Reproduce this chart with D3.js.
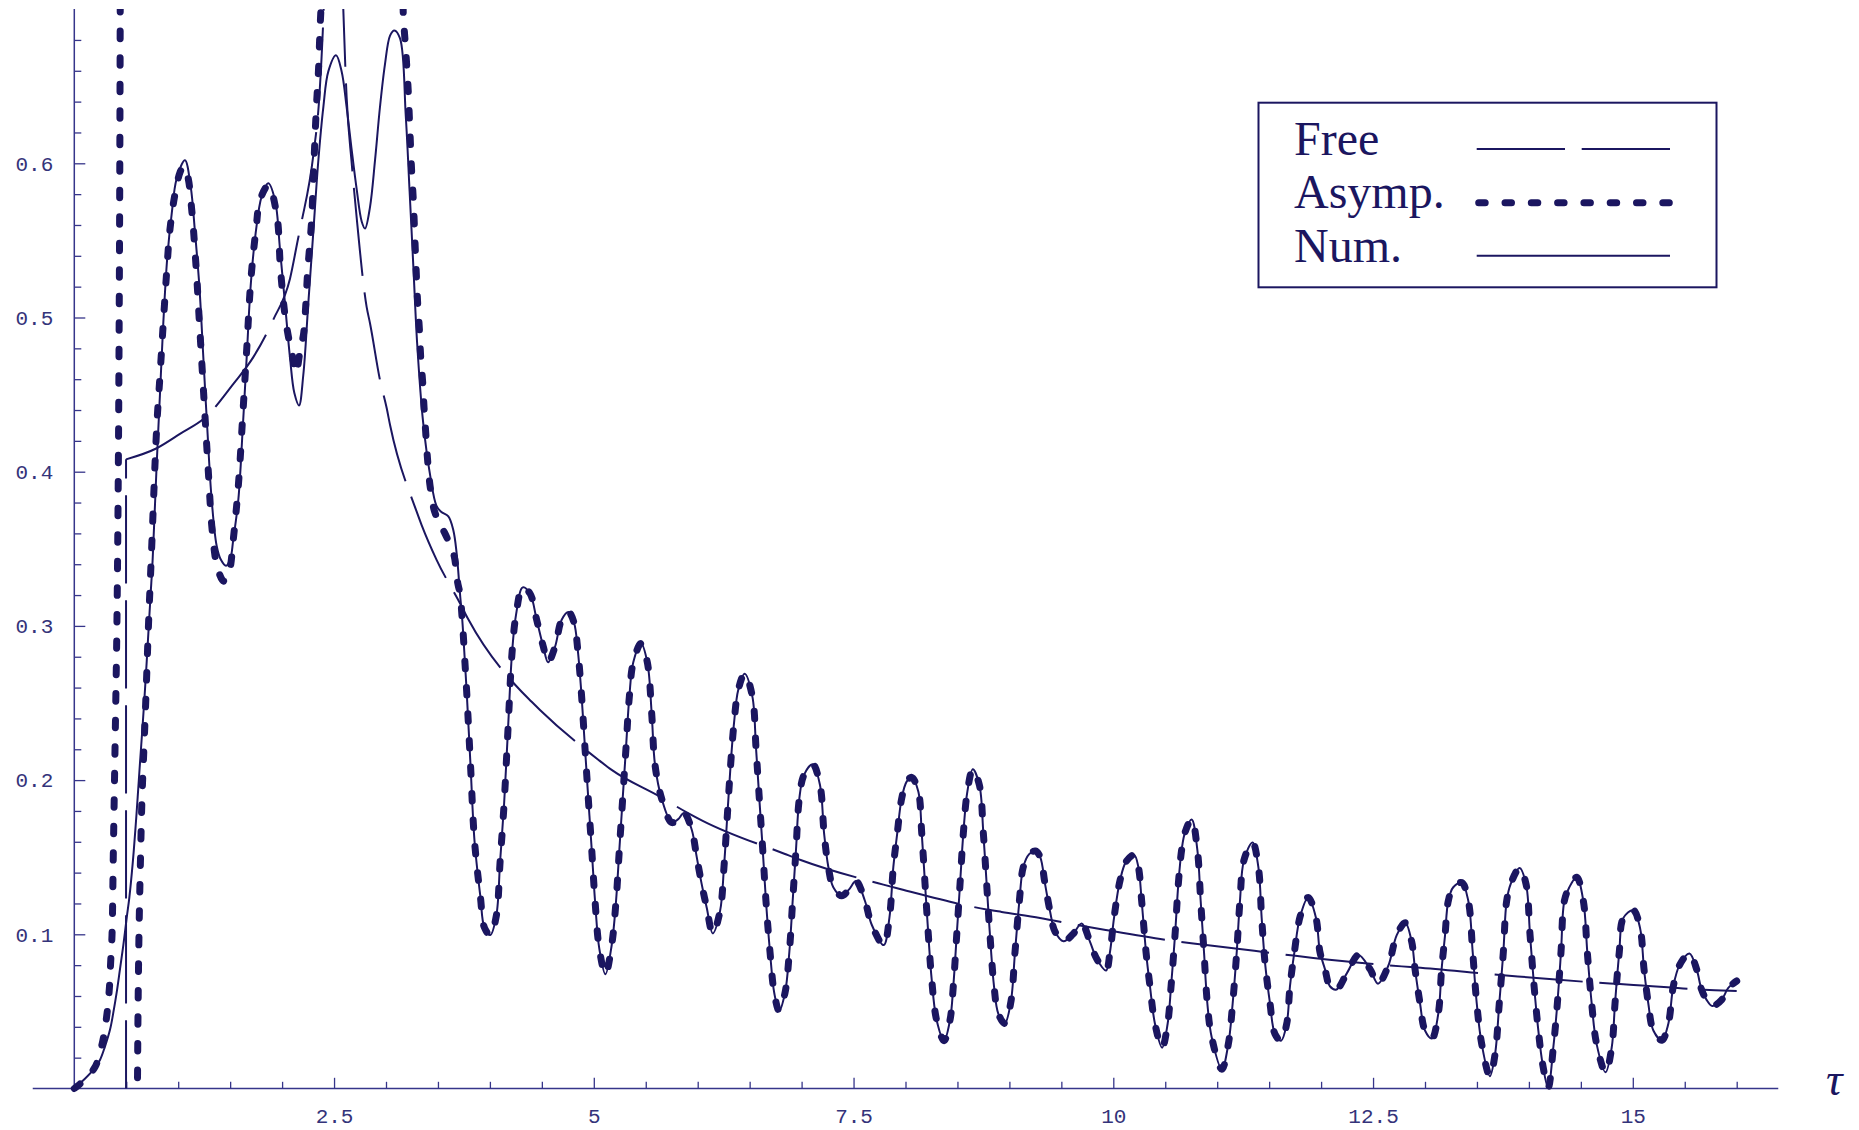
<!DOCTYPE html>
<html>
<head>
<meta charset="utf-8">
<script src="https://cdn.jsdelivr.net/npm/d3@7"></script>
<style>
  body { margin: 0; background: #fff; }
  svg { display: block; }
</style>
</head>
<body>
<svg id="chart"></svg>
<script>
// values, [tau, value]
const num = [
  [0, 0], [0.087, 0.0053], [0.183, 0.012], [0.247, 0.0185], [0.295, 0.0272], [0.344, 0.0382],
  [0.375, 0.049], [0.408, 0.0623], [0.44, 0.0776], [0.472, 0.093], [0.504, 0.1105], [0.53, 0.124],
  [0.562, 0.146], [0.588, 0.168], [0.61, 0.189], [0.632, 0.211], [0.655, 0.233], [0.677, 0.255],
  [0.697, 0.277], [0.716, 0.299], [0.735, 0.321], [0.754, 0.343], [0.793, 0.405], [0.825, 0.451],
  [0.857, 0.497], [0.895, 0.539], [0.937, 0.567], [0.985, 0.59], [1.065, 0.602], [1.12, 0.585],
  [1.162, 0.555], [1.203, 0.521], [1.242, 0.474], [1.28, 0.428], [1.322, 0.382], [1.37, 0.352],
  [1.41, 0.343], [1.46, 0.339], [1.5, 0.343], [1.53, 0.356], [1.579, 0.382], [1.621, 0.428],
  [1.659, 0.474], [1.698, 0.521], [1.746, 0.555], [1.803, 0.5785], [1.867, 0.587], [1.932, 0.576],
  [1.98, 0.544], [2.028, 0.509], [2.076, 0.474], [2.118, 0.451], [2.163, 0.443], [2.204, 0.4627],
  [2.252, 0.509], [2.3, 0.555], [2.349, 0.602], [2.397, 0.6365], [2.445, 0.6596], [2.519, 0.67],
  [2.573, 0.6596], [2.621, 0.6365], [2.67, 0.6086], [2.718, 0.5831], [2.766, 0.5623], [2.798, 0.5577],
  [2.846, 0.5716], [2.894, 0.6017], [2.942, 0.6365], [2.99, 0.6642], [3.039, 0.6828], [3.08, 0.6862],
  [3.135, 0.681], [3.19, 0.631], [3.227, 0.582], [3.264, 0.532], [3.3, 0.483], [3.356, 0.433],
  [3.429, 0.396], [3.485, 0.378], [3.53, 0.374], [3.6, 0.371], [3.648, 0.362], [3.68, 0.347],
  [3.712, 0.321], [3.734, 0.304], [3.76, 0.276], [3.776, 0.258], [3.814, 0.209], [3.852, 0.1605],
  [3.909, 0.124], [3.947, 0.1044], [4.004, 0.0995], [4.061, 0.1117], [4.099, 0.148], [4.137, 0.185],
  [4.175, 0.234], [4.213, 0.2825], [4.251, 0.307], [4.316, 0.325], [4.386, 0.321], [4.45, 0.304],
  [4.514, 0.2865], [4.56, 0.2764], [4.627, 0.2865], [4.691, 0.304], [4.757, 0.309], [4.81, 0.302],
  [4.845, 0.285], [4.883, 0.254], [4.915, 0.221], [4.947, 0.188], [4.98, 0.155], [5.012, 0.1216],
  [5.053, 0.0907], [5.112, 0.0741], [5.172, 0.0929], [5.214, 0.1216], [5.246, 0.155], [5.278, 0.188],
  [5.31, 0.221], [5.342, 0.254], [5.38, 0.2764], [5.455, 0.2886], [5.515, 0.2764], [5.557, 0.2433],
  [5.589, 0.21], [5.653, 0.188], [5.75, 0.1725], [5.81, 0.1745], [5.868, 0.1787], [5.942, 0.168],
  [5.99, 0.1504], [6.038, 0.1327], [6.087, 0.1172], [6.145, 0.1006], [6.215, 0.115], [6.253, 0.1437],
  [6.285, 0.1769], [6.317, 0.21], [6.349, 0.2366], [6.391, 0.2587], [6.452, 0.269], [6.526, 0.2543],
  [6.561, 0.2211], [6.593, 0.188], [6.626, 0.1548], [6.657, 0.1216], [6.696, 0.0885], [6.737, 0.0619],
  [6.784, 0.0503], [6.84, 0.0619], [6.882, 0.0885], [6.914, 0.1216], [6.946, 0.1548], [6.978, 0.188],
  [7.023, 0.2034], [7.107, 0.2102], [7.177, 0.1968], [7.216, 0.1658], [7.257, 0.1438], [7.305, 0.1305],
  [7.386, 0.125], [7.455, 0.129], [7.524, 0.1345], [7.61, 0.1216], [7.675, 0.1062], [7.79, 0.093],
  [7.845, 0.1106], [7.883, 0.1437], [7.921, 0.1658], [7.963, 0.188], [8.011, 0.199], [8.06, 0.2018],
  [8.124, 0.1924], [8.156, 0.1658], [8.188, 0.1327], [8.22, 0.0995], [8.252, 0.0708], [8.3, 0.0442],
  [8.371, 0.031], [8.428, 0.0442], [8.46, 0.0663], [8.493, 0.0995], [8.525, 0.1327], [8.557, 0.1658],
  [8.595, 0.1924], [8.648, 0.207], [8.711, 0.1968], [8.749, 0.1658], [8.781, 0.1327], [8.813, 0.0995],
  [8.852, 0.0663], [8.893, 0.0486], [8.955, 0.0422], [9.012, 0.0553], [9.054, 0.0885], [9.096, 0.1216],
  [9.134, 0.1437], [9.19, 0.152], [9.25, 0.154], [9.295, 0.1504], [9.343, 0.1327], [9.391, 0.115],
  [9.439, 0.1018], [9.52, 0.0955], [9.61, 0.1], [9.696, 0.107], [9.776, 0.0951], [9.84, 0.0841],
  [9.93, 0.0765], [9.968, 0.0885], [10.007, 0.1106], [10.065, 0.135], [10.122, 0.147], [10.2, 0.1515],
  [10.241, 0.1437], [10.273, 0.1216], [10.315, 0.0885], [10.353, 0.0663], [10.401, 0.042], [10.47, 0.0265],
  [10.523, 0.042], [10.556, 0.0663], [10.594, 0.0995], [10.626, 0.1327], [10.658, 0.1548], [10.69, 0.166],
  [10.754, 0.1745], [10.809, 0.1548], [10.841, 0.1216], [10.873, 0.0885], [10.905, 0.0553], [10.947, 0.0332],
  [11.045, 0.0125], [11.107, 0.0288], [11.149, 0.0553], [11.188, 0.0885], [11.219, 0.1216], [11.258, 0.1482],
  [11.34, 0.1596], [11.396, 0.1437], [11.428, 0.1106], [11.46, 0.0818], [11.508, 0.0553], [11.556, 0.0354],
  [11.615, 0.031], [11.669, 0.042], [11.7, 0.066], [11.743, 0.0885], [11.8, 0.112], [11.876, 0.1239],
  [11.951, 0.1106], [11.989, 0.0885], [12.037, 0.0774], [12.085, 0.0663], [12.148, 0.0642], [12.25, 0.075],
  [12.36, 0.0866], [12.471, 0.0774], [12.548, 0.068], [12.647, 0.0796], [12.728, 0.0995], [12.81, 0.1075],
  [12.872, 0.0951], [12.904, 0.0774], [12.952, 0.0553], [13.0, 0.0376], [13.067, 0.0324], [13.128, 0.0486],
  [13.16, 0.0774], [13.193, 0.0995], [13.224, 0.1216], [13.272, 0.1305], [13.354, 0.1335], [13.417, 0.1216],
  [13.459, 0.0885], [13.498, 0.0553], [13.546, 0.0288], [13.624, 0.008], [13.674, 0.0221], [13.715, 0.0553],
  [13.754, 0.0885], [13.786, 0.1216], [13.825, 0.1327], [13.911, 0.143], [13.972, 0.1327], [14.011, 0.0995],
  [14.05, 0.0663], [14.091, 0.0376], [14.133, 0.0155], [14.185, 0.0005], [14.235, 0.0266], [14.274, 0.0553],
  [14.309, 0.0885], [14.341, 0.1216], [14.389, 0.1305], [14.46, 0.137], [14.524, 0.1216], [14.562, 0.0885],
  [14.604, 0.0553], [14.652, 0.0288], [14.738, 0.0105], [14.797, 0.0266], [14.829, 0.0553], [14.87, 0.0885],
  [14.909, 0.1106], [15.005, 0.1156], [15.07, 0.104], [15.108, 0.0774], [15.149, 0.0553], [15.198, 0.0376],
  [15.28, 0.0313], [15.342, 0.042], [15.39, 0.0663], [15.45, 0.08], [15.545, 0.0876], [15.614, 0.0774],
  [15.662, 0.0641], [15.71, 0.0575], [15.765, 0.0535], [15.855, 0.0575], [15.919, 0.0652], [16.0, 0.0697]
];

// asymptotic curve: three branches (it blows up twice), last one runs on top of num
const asympA = [
  [0, 0], [0.039, 0.002], [0.1, 0.006], [0.2, 0.014], [0.273, 0.0305], [0.312, 0.047], [0.337, 0.0645],
  [0.35, 0.082], [0.363, 0.0995], [0.375, 0.15], [0.387, 0.2], [0.399, 0.25], [0.41, 0.3],
  [0.4235, 0.4], [0.432, 0.5], [0.438, 0.6], [0.442, 0.7], [0.443, 0.73]
];
const asympB = [
  [0.607, -0.01], [0.613, 0.047], [0.623, 0.1017], [0.636, 0.1456], [0.652, 0.1894], [0.671, 0.2222],
  [0.69, 0.2552], [0.713, 0.2989], [0.74, 0.343], [0.793, 0.4286], [0.825, 0.4626], [0.857, 0.497],
  [0.889, 0.5295], [0.921, 0.5573], [0.969, 0.58], [1.017, 0.594], [1.05, 0.598], [1.09, 0.592],
  [1.13, 0.57], [1.17, 0.535], [1.21, 0.49], [1.25, 0.445], [1.29, 0.4], [1.33, 0.36], [1.38, 0.337],
  [1.44, 0.329], [1.49, 0.335], [1.53, 0.356], [1.58, 0.392], [1.62, 0.435], [1.66, 0.48], [1.7, 0.525],
  [1.75, 0.558], [1.787, 0.576], [1.867, 0.5857], [1.948, 0.567], [1.986, 0.53], [2.037, 0.497],
  [2.102, 0.474], [2.135, 0.464], [2.17, 0.477], [2.208, 0.49], [2.227, 0.507], [2.246, 0.53],
  [2.265, 0.546], [2.284, 0.563], [2.305, 0.598], [2.33, 0.6365], [2.35, 0.66], [2.365, 0.687],
  [2.38, 0.71], [2.385, 0.73]
];
const asympC = [
  [3.162, 0.72], [3.167, 0.6955], [3.183, 0.68], [3.199, 0.664], [3.215, 0.6457], [3.225, 0.6295],
  [3.247, 0.5947], [3.263, 0.576], [3.282, 0.544], [3.305, 0.509], [3.321, 0.4928], [3.334, 0.4743],
  [3.353, 0.458], [3.366, 0.4419], [3.382, 0.4257], [3.401, 0.4071], [3.424, 0.3909], [3.466, 0.3745],
  [3.52, 0.366], [3.567, 0.36], [3.62, 0.352], [3.657, 0.345], [3.69, 0.328]
];

// free curve: jump at 0.5, pole near 2.5
const freeJump = [[0.498, 0], [0.498, 0.408]];
const freeLeft = [
  [0.498, 0.408], [0.793, 0.4152], [1.017, 0.4245], [1.274, 0.436], [1.531, 0.457], [1.723, 0.4743],
  [1.915, 0.4986], [2.076, 0.5252], [2.156, 0.5519], [2.188, 0.5623], [2.3, 0.605], [2.36, 0.645],
  [2.4, 0.7], [2.41, 0.72]
];
const freeRight = [
  [2.58, 0.72], [2.589, 0.7], [2.621, 0.643], [2.67, 0.6], [2.718, 0.5646], [2.814, 0.5067],
  [2.846, 0.4963], [2.942, 0.4595], [3.007, 0.4411], [3.039, 0.4303], [3.289, 0.3752], [3.343, 0.3654],
  [3.488, 0.3427], [3.712, 0.3147], [3.792, 0.3043], [4.29, 0.2584], [4.402, 0.2508], [4.482, 0.2455],
  [5.043, 0.2132], [5.172, 0.2066], [5.637, 0.1892], [5.894, 0.1791], [6.048, 0.1736], [6.84, 0.1521],
  [6.991, 0.1482], [7.787, 0.1322], [7.947, 0.1294], [8.781, 0.1161], [8.925, 0.1145], [9.295, 0.1106],
  [9.68, 0.1057], [9.927, 0.1028], [10.77, 0.094], [10.914, 0.0929], [11.733, 0.0862], [11.925, 0.0847],
  [12.776, 0.0792], [12.92, 0.0785], [13.754, 0.0734], [13.93, 0.0725], [14.78, 0.0681], [14.94, 0.0675],
  [15.791, 0.0637], [16.0, 0.0632]
];

const legendNames = ["Free", "Asymp.", "Num."];
const xTickValues = [2.5, 5, 7.5, 10, 12.5, 15];
const yTickValues = [0.1, 0.2, 0.3, 0.4, 0.5, 0.6];

const width = 1859;
const height = 1130;
const ink = "#1b1660";
const axisInk = "#36358a";

let svg = d3.select("#chart").attr("width", width).attr("height", height);

let x = d3.scaleLinear().domain([0, 16]).range([74.3, 74.3 + 16 * 103.9]);
let y = d3.scaleLinear().domain([0, 0.7]).range([1088.5, 1088.5 - 0.7 * 1542]);

svg.append("rect").attr("width", width).attr("height", height).attr("fill", "#fff");

svg
  .append("clipPath")
  .attr("id", "plotClip")
  .append("rect")
  .attr("x", x(-0.4))
  .attr("y", y(0.7))
  .attr("width", x(16.4) - x(-0.4))
  .attr("height", y(0) - y(0.7) + 4);

// axes
let xAxis = d3
  .axisBottom(x)
  .tickValues(xTickValues)
  .tickSize(-10.7)
  .tickPadding(20)
  .tickFormat(d3.format(""));

let xMinor = d3
  .axisBottom(x)
  .tickValues(d3.range(0.5, 16.01, 0.5).filter((t) => t % 2.5 !== 0))
  .tickSize(-6.7)
  .tickFormat("");

let yAxis = d3
  .axisLeft(y)
  .tickValues(yTickValues)
  .tickSize(-11)
  .tickPadding(21)
  .tickFormat(d3.format(".1f"));

let yMinor = d3
  .axisLeft(y)
  .tickValues(d3.range(0.02, 0.69, 0.02).filter((v) => Math.abs(v * 10 - Math.round(v * 10)) > 0.01))
  .tickSize(-7)
  .tickFormat("");

function styleAxis(g) {
  g.select(".domain").remove();
  g.selectAll(".tick line").attr("stroke", axisInk).attr("stroke-width", 1.3);
  g.selectAll(".tick text")
    .attr("fill", "#34337a")
    .attr("font-family", "Liberation Mono, DejaVu Sans Mono, monospace")
    .attr("font-size", 21);
}

svg.append("g").attr("transform", `translate(0,${y(0)})`).call(xMinor).call(styleAxis);
svg.append("g").attr("transform", `translate(0,${y(0)})`).call(xAxis).call(styleAxis);
svg.append("g").attr("transform", `translate(${x(0)},0)`).call(yMinor).call(styleAxis);
svg.append("g").attr("transform", `translate(${x(0)},0)`).call(yAxis).call(styleAxis);

svg
  .append("line")
  .attr("x1", x(-0.4))
  .attr("x2", x(16.4))
  .attr("y1", y(0))
  .attr("y2", y(0))
  .attr("stroke", axisInk)
  .attr("stroke-width", 1.5);

svg
  .append("line")
  .attr("x1", x(0))
  .attr("x2", x(0))
  .attr("y1", y(0))
  .attr("y2", y(0.7))
  .attr("stroke", axisInk)
  .attr("stroke-width", 1.5);

svg
  .append("text")
  .attr("x", 1826)
  .attr("y", 1095)
  .attr("font-family", "Liberation Serif, serif")
  .attr("font-style", "italic")
  .attr("font-size", 46)
  .attr("fill", ink)
  .text("τ");

// curves
let smooth = d3
  .line()
  .x((d) => x(d[0]))
  .y((d) => y(d[1]))
  .curve(d3.curveCatmullRom.alpha(0.5));

let monotone = d3
  .line()
  .x((d) => x(d[0]))
  .y((d) => y(d[1]))
  .curve(d3.curveMonotoneX);

let straight = d3
  .line()
  .x((d) => x(d[0]))
  .y((d) => y(d[1]));

let plot = svg.append("g").attr("clip-path", "url(#plotClip)");

const freeDash = "88.3,16.7";
const asympDash = "7.5,19";

plot
  .append("path")
  .attr("d", straight(freeJump))
  .attr("fill", "none")
  .attr("stroke", ink)
  .attr("stroke-width", 2)
  .attr("stroke-dasharray", freeDash)
  .attr("stroke-dashoffset", 20);

[freeLeft, freeRight].forEach((branch) => {
  plot
    .append("path")
    .attr("d", monotone(branch))
    .attr("fill", "none")
    .attr("stroke", ink)
    .attr("stroke-width", 2)
    .attr("stroke-dasharray", freeDash);
});

let asympBranches = [asympA, asympB, asympC.concat(num.filter((d) => d[0] >= 3.71))];
asympBranches.forEach((branch) => {
  plot
    .append("path")
    .attr("d", smooth(branch))
    .attr("fill", "none")
    .attr("stroke", ink)
    .attr("stroke-width", 7)
    .attr("stroke-linecap", "round")
    .attr("stroke-dasharray", asympDash);
});

plot
  .append("path")
  .attr("d", smooth(num))
  .attr("fill", "none")
  .attr("stroke", ink)
  .attr("stroke-width", 2);

// legend
let legend = svg.append("g");
legend
  .append("rect")
  .attr("x", 1258.5)
  .attr("y", 102.7)
  .attr("width", 458)
  .attr("height", 184.6)
  .attr("fill", "#fff")
  .attr("stroke", ink)
  .attr("stroke-width", 2);

let rowY = [149, 202.7, 255.7];
let baseY = [155, 208.3, 261.7];

legend
  .selectAll("text")
  .data(legendNames)
  .enter()
  .append("text")
  .attr("x", 1294)
  .attr("y", (d, i) => baseY[i])
  .attr("font-family", "Liberation Serif, serif")
  .attr("font-size", 48)
  .attr("fill", ink)
  .text((d) => d);

legend
  .append("line")
  .attr("x1", 1476.7)
  .attr("x2", 1670)
  .attr("y1", rowY[0])
  .attr("y2", rowY[0])
  .attr("stroke", ink)
  .attr("stroke-width", 2)
  .attr("stroke-dasharray", freeDash);

legend
  .append("line")
  .attr("x1", 1478.7)
  .attr("x2", 1670)
  .attr("y1", rowY[1])
  .attr("y2", rowY[1])
  .attr("stroke", ink)
  .attr("stroke-width", 7)
  .attr("stroke-linecap", "round")
  .attr("stroke-dasharray", "6.5,19.8");

legend
  .append("line")
  .attr("x1", 1476.7)
  .attr("x2", 1670)
  .attr("y1", rowY[2])
  .attr("y2", rowY[2])
  .attr("stroke", ink)
  .attr("stroke-width", 2);
</script>
</body>
</html>
